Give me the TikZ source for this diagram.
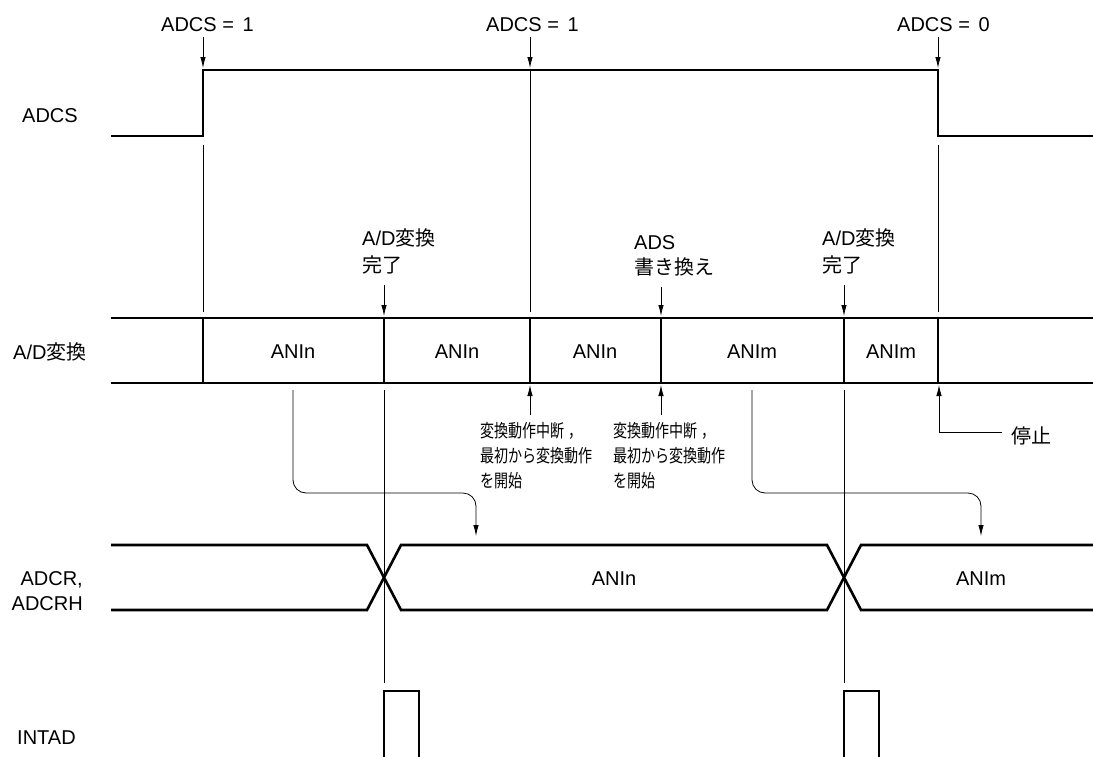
\documentclass[tikz,border=0pt]{standalone}
\usepackage{fontspec}
\setmainfont{Liberation Sans}
\newfontfamily\cjk{Noto Sans CJK JP}
\newfontfamily\cjksm[FakeStretch=0.78]{Noto Sans CJK JP}
\usetikzlibrary{arrows.meta}
\begin{document}
\begin{tikzpicture}[x=1pt,y=-1pt,
  sig/.style={line width=2.6pt, line join=miter},
  guide/.style={line width=0.8pt},
  arr/.style={line width=0.8pt,-{Latex[length=11pt,width=5.5pt]}},
  big/.style={font=\fontsize{20}{27}\selectfont, inner sep=0pt},
  sm/.style={font=\cjksm\fontsize{18}{25}\selectfont, inner sep=0pt}]
\useasboundingbox (0,0) rectangle (1093,756);

% ---- left labels
\node[big,anchor=base west] (lADCS) at (22,122) {ADCS};
\node[big,anchor=base west] (lAD) at (13,359) {A/D{\cjk 変換}};
\node[big,anchor=base east] (lADCR) at (83,585) {ADCR,};
\node[big,anchor=base east] (lADCRH) at (83,610) {ADCRH};
\node[big,anchor=base west] (lINT) at (17,744) {INTAD};

% ---- ADCS signal
\coordinate (r1) at (203,70);
\coordinate (r2) at (530,70);
\coordinate (r3) at (938,70);
\draw[sig] (111,136) -- (203,136) -- (r1) -- (r3) -- (938,136) -- (1093,136);

\node[big,anchor=base west] (t1) at (161,31) {ADCS = \hspace{3pt}1};
\node[big,anchor=base west] (t2) at (486,31) {ADCS = \hspace{3pt}1};
\node[big,anchor=base west] (t3) at (897,31) {ADCS = \hspace{3pt}0};
\coordinate (a1) at (203,37);
\coordinate (a2) at (530,37);
\coordinate (a3) at (938,37);
\draw[arr] (a1) -- ([yshift=2pt]r1);
\draw[arr] (a2) -- ([yshift=2pt]r2);
\draw[arr] (a3) -- ([yshift=2pt]r3);

% ---- guide lines from ADCS
\draw[guide] (203,145) -- (203,312);
\draw[guide] (r2) -- (530,312);
\draw[guide] (938,145) -- (938,312);

% ---- A/D conversion row
\draw[sig] (111,318) -- (1093,318);
\draw[sig] (111,383) -- (1093,383);
\foreach \x in {203,384,530,661,844,938}{
  \draw[sig] (\x,318) -- (\x,383);
}
\node[big,anchor=base] (c1) at (293,358) {ANIn};
\node[big,anchor=base] (c2) at (457,358) {ANIn};
\node[big,anchor=base] (c3) at (595,358) {ANIn};
\node[big,anchor=base] (c4) at (752,358) {ANIm};
\node[big,anchor=base] (c5) at (891,358) {ANIm};

% ---- labels above the row
\node[big,anchor=base west] (d1a) at (362,245) {A/D{\cjk 変換}};
\node[big,anchor=base west] (d1b) at (362,272.5) {\cjk 完了};
\node[big,anchor=base west] (d2a) at (822,245) {A/D{\cjk 変換}};
\node[big,anchor=base west] (d2b) at (822,272.5) {\cjk 完了};
\node[big,anchor=base west] (e1a) at (634,249) {ADS};
\node[big,anchor=base west] (e1b) at (634,274.5) {\cjk 書き換え};
\coordinate (d1s) at (384,285);
\coordinate (d1e) at (384,316);
\coordinate (d2s) at (844,285);
\coordinate (d2e) at (844,316);
\coordinate (e1s) at (661,287);
\coordinate (e1e) at (661,316);
\draw[arr] (d1s) -- (d1e);
\draw[arr] (d2s) -- (d2e);
\draw[arr] (e1s) -- (e1e);

% ---- annotations below the row
\coordinate (u1s) at (530,415);
\coordinate (u1e) at (530,385);
\coordinate (u2s) at (661,415);
\coordinate (u2e) at (661,385);
\draw[arr] (u1s) -- (u1e);
\draw[arr] (u2s) -- (u2e);
\node[sm,anchor=base west] (n1a) at (480,437) {変換動作中断\hspace{4pt}，};
\node[sm,anchor=base west] (n1b) at (480,462) {最初から変換動作};
\node[sm,anchor=base west] (n1c) at (480,487) {を開始};
\node[sm,anchor=base west] (n2a) at (613,437) {変換動作中断\hspace{4pt}，};
\node[sm,anchor=base west] (n2b) at (613,462) {最初から変換動作};
\node[sm,anchor=base west] (n2c) at (613,487) {を開始};

% stop
\node[big,anchor=base west] (stop) at (1011,443.5) {\cjk 停止};
\coordinate (s1) at (1002,432);
\coordinate (s2) at (939,432);
\coordinate (s3) at (939,385);
\draw[arr] (s1) -- (s2) -- (s3);

% ---- transfer arrows to ADCR
\draw[arr, rounded corners=13pt] (293,390) -- (293,493) -- (476,493) -- (476,536);
\draw[arr, rounded corners=13pt] (752,390) -- (752,493) -- (981,493) -- (981,536);

% ---- guides through the ADCR crossing
\draw[guide] (384,390) -- (384,683);
\draw[guide] (844,390) -- (844,683);

% ---- ADCR / ADCRH bus
\draw[sig] (111,545) -- (367,545) -- (401,610) -- (827,610) -- (861,545) -- (1093,545);
\draw[sig] (111,610) -- (367,610) -- (401,545) -- (827,545) -- (861,610) -- (1093,610);
\node[big,anchor=base] (b1) at (614,585) {ANIn};
\node[big,anchor=base] (b2) at (981,585) {ANIm};

% ---- INTAD pulses
\draw[sig] (384,760) -- (384,691) -- (419,691) -- (419,760);
\draw[sig] (844,760) -- (844,691) -- (879,691) -- (879,760);
\end{tikzpicture}
\end{document}
